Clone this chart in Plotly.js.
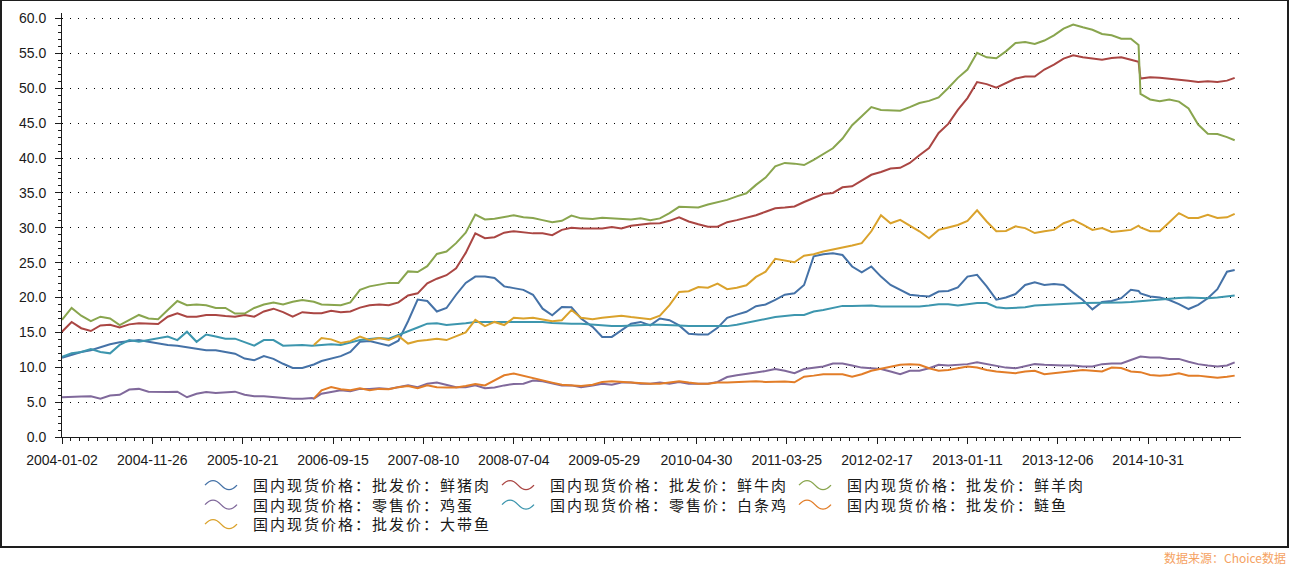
<!DOCTYPE html>
<html>
<head>
<meta charset="utf-8">
<script src="https://cdn.plot.ly/plotly-3.0.1.min.js"></script>
<style>
  html, body { margin: 0; padding: 0; background: #fff; }
  #wrap { position: relative; width: 1292px; height: 565px; }
  #chart { width: 1292px; height: 565px; }
  #frame { position: absolute; left: 0; top: 0; width: 1285px; height: 545px;
           border: 2px solid #1e1e1e; border-top-width: 1px; pointer-events: none; }
  .legendtext { letter-spacing: 2px; }
</style>
</head>
<body>
<div id="wrap">
  <div id="chart"></div>
  <div id="frame"></div>
</div>
<script>
// ---- x categories: weekly observations (one week missing in Feb 2010) ----
const startDate = '2004-01-02';
const sampleWeeks = [];
for (let w = 0; w <= 605; w += 5) {
  sampleWeeks.push(w);
  if (w === 130) sampleWeeks.push(131);
  if (w === 555) sampleWeeks.push(559);
}
sampleWeeks.push(609);

const tickLabels = ['2004-01-02','2004-11-26','2005-10-21','2006-09-15','2007-08-10','2008-07-04',
  '2009-05-29','2010-04-30','2011-03-25','2012-02-17','2013-01-11','2013-12-06','2014-10-31'];

const seriesNames = [
  '国内现货价格：批发价：鲜猪肉',
  '国内现货价格：批发价：鲜牛肉',
  '国内现货价格：批发价：鲜羊肉',
  '国内现货价格：零售价：鸡蛋',
  '国内现货价格：零售价：白条鸡',
  '国内现货价格：批发价：鲢鱼',
  '国内现货价格：批发价：大带鱼'
];

const pork = [
  11.35,11.8,12.2,12.45,12.9,13.3,13.6,13.8,13.9,13.65,
  13.4,13.2,13.1,12.9,12.7,12.45,12.45,12.2,11.95,11.25,
  11.0,11.6,11.2,10.5,9.9,9.9,10.3,10.4,10.9,11.25,
  11.6,12.2,13.65,13.75,13.4,13.1,13.8,16.6,19.7,19.5,
  18.0,18.5,20.4,22.1,23.0,23.0,22.8,21.6,21.35,21.1,
  20.4,18.4,17.45,18.65,18.6,17.0,15.8,14.35,14.35,15.3,
  16.25,16.5,16.0,17.0,16.75,16.0,14.8,14.7,14.7,15.65,
  17.1,17.55,17.95,18.75,19.0,19.65,20.4,20.6,21.8,25.9,
  26.2,26.35,26.1,24.45,23.6,24.45,23.0,21.8,21.1,20.4,
  20.25,20.15,20.85,20.95,21.45,23.0,23.25,21.6,19.7,20.0,
  20.5,21.8,22.2,21.8,21.95,21.8,20.7,19.65,18.3,19.35,
  19.5,19.9,21.1,20.95,20.6,20.15,20.0,19.65,19.05,18.35,
  18.95,19.9,21.2,23.7,23.95
];
const beef = [
  15.1,16.5,15.6,15.2,16.0,16.1,15.7,16.15,16.3,16.3,
  16.2,17.25,17.75,17.25,17.25,17.5,17.5,17.35,17.25,17.5,
  17.25,18.0,18.4,17.9,17.25,17.9,17.75,17.75,17.75,18.1,
  17.9,18.0,18.55,18.9,19.0,18.9,19.3,20.3,20.6,22.05,
  22.7,23.2,24.2,26.4,29.2,28.5,28.65,29.3,29.5,29.3,
  29.2,29.2,28.95,29.7,30.0,29.9,29.9,29.9,30.1,29.9,
  30.3,30.5,30.6,30.65,31.0,31.5,30.9,30.5,30.15,30.15,
  30.8,31.1,31.45,31.8,32.3,32.8,32.9,33.05,33.7,34.25,
  34.85,35.0,35.8,35.95,36.75,37.6,38.0,38.5,38.6,39.3,
  40.4,41.45,43.6,44.9,46.9,48.6,50.9,50.6,50.1,50.75,
  51.4,51.7,51.7,52.7,53.4,54.25,54.75,54.45,54.25,54.1,
  54.35,54.45,54.1,53.8,51.4,51.6,51.5,51.4,51.25,51.1,
  50.9,51.0,50.9,51.1,51.5
];
const lamb = [
  16.8,18.5,17.4,16.6,17.25,17.0,16.05,16.8,17.5,17.0,
  16.9,18.2,19.5,18.9,19.0,18.9,18.5,18.5,17.7,17.7,
  18.5,19.0,19.3,19.0,19.4,19.65,19.5,19.4,19.0,18.9,
  18.9,19.3,21.1,21.6,21.8,22.1,22.1,23.75,23.65,24.5,
  26.25,26.6,27.8,29.3,31.9,31.2,31.3,31.6,31.8,31.5,
  31.4,31.1,30.8,31.0,31.75,31.35,31.25,31.45,31.35,31.2,
  31.2,31.35,31.1,31.35,32.1,33.0,33.0,32.9,33.35,33.65,
  34.0,34.5,34.95,36.15,37.2,38.8,39.3,39.2,39.0,39.75,
  40.6,41.4,42.8,44.7,46.0,47.3,46.9,46.9,46.8,47.3,
  47.9,48.2,48.7,50.05,51.5,52.7,55.1,54.45,54.3,55.3,
  56.5,56.65,56.35,56.85,57.6,58.55,59.15,58.75,58.4,57.8,
  57.6,57.1,57.1,56.2,49.2,48.4,48.15,48.4,48.1,47.1,
  44.8,43.5,43.45,43.0,42.55
];
const egg = [
  5.7,5.7,5.8,5.85,5.5,5.95,6.05,6.8,6.9,6.5,
  6.45,6.45,6.5,5.7,6.2,6.45,6.3,6.45,6.5,6.05,
  5.85,5.85,5.7,5.6,5.5,5.5,5.6,5.5,6.2,6.45,
  6.7,6.55,6.9,6.9,7.0,6.9,7.15,7.4,7.15,7.65,
  7.8,7.5,7.15,7.15,7.4,7.0,7.1,7.4,7.6,7.65,
  8.1,8.0,7.65,7.4,7.4,7.15,7.4,7.65,7.5,7.8,
  7.8,7.65,7.65,7.8,7.65,7.9,7.65,7.65,7.65,7.9,
  8.6,8.85,9.1,9.25,9.45,9.75,9.5,9.15,9.75,9.95,
  10.1,10.55,10.55,10.25,9.95,9.85,9.75,9.4,9.0,9.5,
  9.5,9.85,10.35,10.25,10.35,10.45,10.7,10.45,10.1,9.95,
  9.85,10.1,10.45,10.35,10.25,10.25,10.25,10.1,10.1,10.45,
  10.55,10.55,11.05,11.5,11.55,11.4,11.4,11.2,11.2,10.8,
  10.45,10.25,10.1,10.25,10.7
];
const chicken = [
  11.5,12.0,12.2,12.6,12.2,12.0,13.2,13.9,13.65,13.9,
  14.1,14.4,13.9,15.1,13.65,14.7,14.4,14.1,14.1,13.65,
  13.1,13.9,13.9,13.1,13.2,13.2,13.1,13.1,13.2,13.3,
  13.2,13.55,13.9,14.05,14.2,14.1,14.6,15.2,15.7,16.25,
  16.3,16.05,16.15,16.3,16.5,16.5,16.6,16.6,16.6,16.5,
  16.55,16.5,16.35,16.25,16.25,16.25,16.1,16.0,15.9,15.9,
  16.0,16.1,16.1,16.1,16.1,16.0,15.9,15.9,15.8,15.8,
  15.9,16.1,16.4,16.7,17.0,17.2,17.35,17.5,17.5,18.0,
  18.2,18.45,18.8,18.8,18.8,18.85,18.7,18.7,18.7,18.7,
  18.7,18.85,19.05,19.05,18.85,19.05,19.2,19.2,18.6,18.45,
  18.55,18.6,18.85,18.95,19.05,19.1,19.15,19.2,19.2,19.2,
  19.25,19.3,19.35,19.45,19.5,19.65,19.8,19.9,19.95,20.0,
  19.95,19.9,20.0,20.15,20.3
];
const silverCarp = [
  null,null,null,null,null,null,null,null,null,null,
  null,null,null,null,null,null,null,null,null,null,
  null,null,null,null,null,null,null,5.5,6.7,7.15,
  6.85,6.7,7.0,6.7,6.9,6.85,7.15,7.3,7.0,7.4,
  7.15,7.1,7.1,7.3,7.6,7.4,8.1,8.85,9.1,8.75,
  8.4,8.1,7.8,7.5,7.4,7.3,7.5,7.9,8.0,7.9,
  7.8,7.8,7.65,7.65,7.8,8.0,7.8,7.65,7.65,7.8,
  7.8,7.9,8.0,8.0,7.9,7.95,7.95,7.85,8.65,8.8,
  9.0,9.0,9.0,8.65,9.0,9.5,9.75,10.1,10.35,10.45,
  10.35,9.85,9.5,9.6,9.85,10.1,9.95,9.6,9.4,9.3,
  9.15,9.4,9.5,9.0,9.15,9.3,9.4,9.6,9.5,9.4,
  9.95,9.9,9.4,9.3,9.3,8.9,8.8,8.9,9.15,8.8,
  8.8,8.65,8.5,8.65,8.8
];
const hairtail = [
  null,null,null,null,null,null,null,null,null,null,
  null,null,null,null,null,null,null,null,null,null,
  null,null,null,null,null,null,null,13.2,14.2,14.0,
  13.5,13.75,14.4,13.9,14.2,13.9,14.5,13.4,13.75,13.9,
  14.1,13.9,14.4,15.0,16.8,15.9,16.5,16.05,17.1,17.0,
  17.1,16.9,16.6,16.75,18.2,17.1,16.9,17.1,17.3,17.4,
  17.2,17.1,16.9,17.4,18.9,20.8,20.9,21.5,21.4,22.0,
  21.2,21.4,21.75,22.95,23.7,25.55,25.25,25.05,26.0,26.2,
  26.6,26.85,27.1,27.45,27.8,29.5,31.8,30.65,31.15,30.3,
  29.5,28.5,29.7,30.05,30.4,31.0,32.5,30.9,29.5,29.55,
  30.2,29.95,29.25,29.5,29.7,30.65,31.15,30.45,29.7,29.95,
  29.4,29.55,29.7,30.3,30.05,29.5,29.5,30.8,32.1,31.4,
  31.4,31.85,31.4,31.5,32.0
];

const seriesValues = [pork, beef, lamb, egg, chicken, silverCarp, hairtail];
const seriesColors = ['#4572A7','#AA4643','#89A54E','#80699B','#3D96AE','#E27D28','#DAA22C'];

// ---- build dates ----
const DAY = 86400000;
const t0 = Date.parse(startDate + 'T00:00:00Z');
function iso(ms) { return new Date(ms).toISOString().slice(0, 10); }
function weekToMs(w) { return t0 + (w + (w >= 272 ? 1 : 0)) * 7 * DAY; }
const dates = sampleWeeks.map(w => iso(weekToMs(w)));
const rangeEnd = iso(weekToMs(612.3));

// minor ticks: 10 per labelled interval
const minorVals = [];
const tickMs = tickLabels.map(d => Date.parse(d + 'T00:00:00Z'));
const endMs = Date.parse(rangeEnd + 'T00:00:00Z');
for (let k = 0; k < tickMs.length; k++) {
  const a = tickMs[k];
  const step = (k < tickMs.length - 1 ? tickMs[k + 1] - a : tickMs[k] - tickMs[k - 1]) / 10;
  for (let j = 1; j < 10; j++) {
    const m = a + j * step;
    if (m < endMs) minorVals.push(iso(m));
  }
}

const traces = seriesValues.map((vals, n) => ({
  type: 'scatter', mode: 'lines', name: seriesNames[n],
  x: dates, y: vals, connectgaps: false,
  line: { color: seriesColors[n], width: 2 }
}));

const axisColor = '#1a1a1a';
const layout = {
  width: 1292, height: 565,
  margin: { l: 62, r: 51, t: 13, b: 128 },
  paper_bgcolor: '#ffffff', plot_bgcolor: '#ffffff',
  font: { family: 'Liberation Sans, Arial, sans-serif', size: 14, color: axisColor },
  showlegend: true,
  hovermode: false,
  xaxis: {
    type: 'date', range: [startDate, rangeEnd],
    showline: true, linecolor: axisColor, linewidth: 1,
    ticks: 'outside', ticklen: 6, tickcolor: axisColor, tickwidth: 1,
    tickmode: 'array', tickvals: tickLabels, ticktext: tickLabels,
    showgrid: false, zeroline: false, ticklabelstandoff: 4,
    tickfont: { family: 'Liberation Sans, Arial, sans-serif', size: 14, color: axisColor },
    minor: { tickmode: 'array', tickvals: minorVals, ticks: 'outside', ticklen: 3,
             tickcolor: axisColor, tickwidth: 1, showgrid: false }
  },
  yaxis: {
    range: [0, 60.8], tick0: 0, dtick: 5, tickformat: '.1f',
    showline: true, linecolor: axisColor, linewidth: 1,
    ticks: 'outside', ticklen: 6, tickcolor: axisColor, tickwidth: 1,
    showgrid: true, gridcolor: '#000000', gridwidth: 1, griddash: '1px,7px',
    zeroline: false, ticklabelstandoff: 6,
    tickfont: { family: 'Liberation Sans, Arial, sans-serif', size: 14, color: axisColor },
    minor: { dtick: 1, tick0: 0, ticks: 'outside', ticklen: 3, tickcolor: axisColor,
             tickwidth: 1, showgrid: false }
  },
  legend: {
    orientation: 'h', x: 0.1196, xanchor: 'left', y: -0.08, yanchor: 'top',
    entrywidth: 297, entrywidthmode: 'pixels', traceorder: 'normal',
    font: { family: 'Noto Sans CJK SC, sans-serif', size: 15, color: '#1a1a1a' },
    bgcolor: 'rgba(0,0,0,0)', borderwidth: 0, itemwidth: 30, tracegroupgap: 0
  },
  annotations: [{
    xref: 'paper', yref: 'paper', x: (1288 - 62) / 1179, y: (437 - 557) / 424,
    xanchor: 'right', yanchor: 'middle', showarrow: false,
    text: '数据来源：Choice数据',
    font: { family: 'Noto Sans CJK SC, sans-serif', size: 12, color: '#F5A262' }
  }]
};

Plotly.newPlot('chart', traces, layout, { staticPlot: true, displayModeBar: false }).then(gd => {
  // wavy legend symbols, text shifted right, 3-column grid with tighter spacing
  const items = Array.from(gd.querySelectorAll('.legend .traces'));
  let baseX = 0, baseY = 0;
  if (items.length) {
    const m = /translate\(\s*([-\d.]+)[ ,]+([-\d.]+)\s*\)/.exec(items[0].getAttribute('transform') || '');
    if (m) { baseX = parseFloat(m[1]); baseY = parseFloat(m[2]) - 2; }
  }
  items.forEach((g, n) => {
    g.querySelectorAll('.legendlines path').forEach(p => {
      p.setAttribute('d', 'M2,0 Q10,-9 18,0 T34,0');
      p.style.strokeWidth = '1.3px';
    });
    const t = g.querySelector('.legendtext');
    if (t) t.setAttribute('x', 50);
    const col = n % 3, row = Math.floor(n / 3);
    g.setAttribute('transform', 'translate(' + (baseX + col * 297) + ',' + (baseY + row * 19.5) + ')');
  });
});
</script>
</body>
</html>
